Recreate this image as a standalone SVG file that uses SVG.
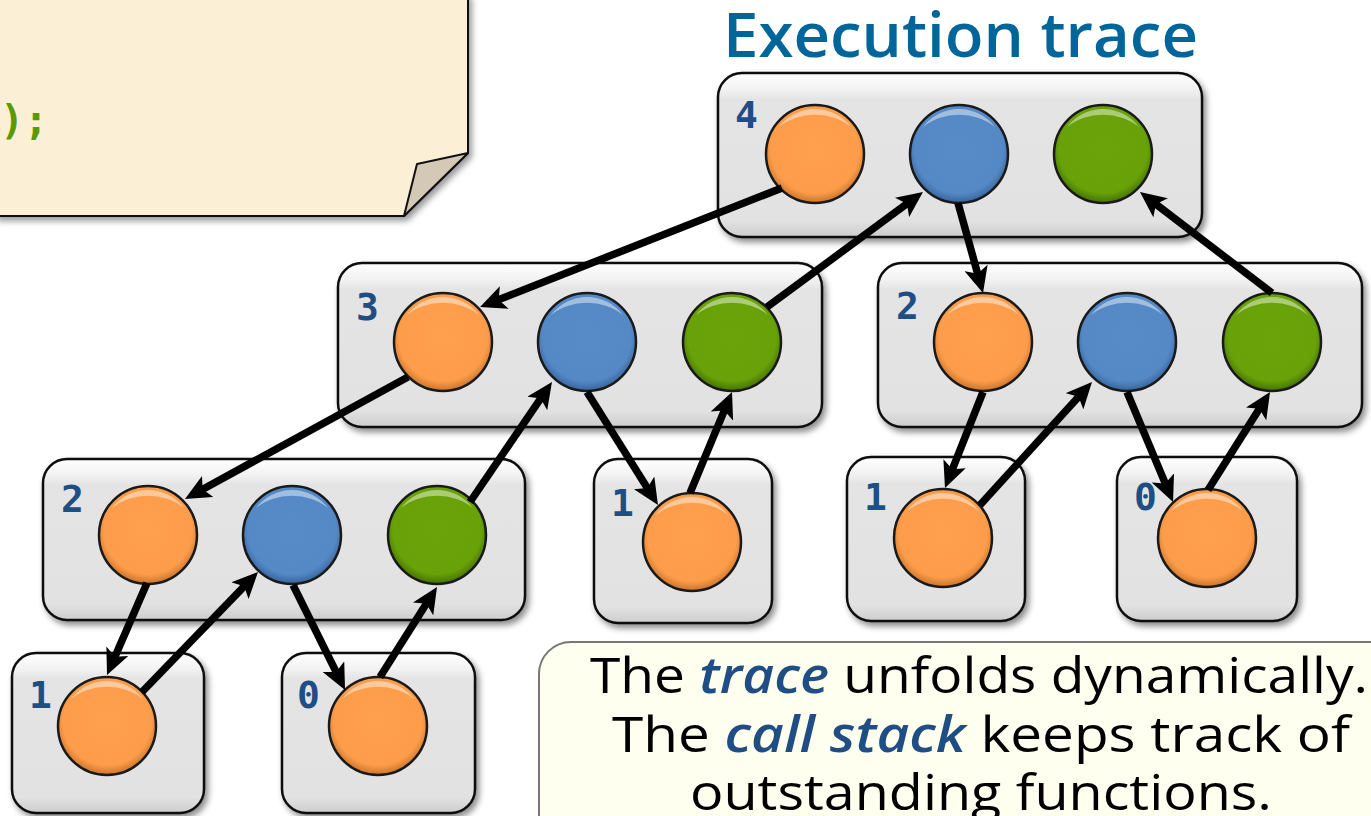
<svg xmlns="http://www.w3.org/2000/svg" width="1371" height="816" viewBox="0 0 1371 816">
<style>
.box{fill:url(#boxg);stroke:#111;stroke-width:2.5;filter:url(#sh)}
.c{stroke:#1a1a1a;stroke-width:2.5}
.o{fill:url(#og)}
.b{fill:url(#bg)}
.g{fill:url(#gg)}
.lbl{font-family:"DejaVu Sans Mono","Liberation Mono",monospace;font-weight:bold;font-size:38px;fill:#1f4e84}
.arr{stroke:#000;stroke-width:7.5;fill:none;marker-end:url(#ah)}
.cap{font-family:"Open Sans","Noto Sans",sans-serif;font-size:50px;fill:#000}
.em{font-style:italic;font-weight:600;fill:#1f4e84}
</style>
<defs>
<filter id="sh" x="-10%" y="-10%" width="125%" height="130%">
<feDropShadow dx="3" dy="4" stdDeviation="3" flood-color="#000" flood-opacity="0.45"/>
</filter>
<filter id="psh" x="-5%" y="-5%" width="115%" height="120%">
<feDropShadow dx="3" dy="4" stdDeviation="3" flood-color="#000" flood-opacity="0.4"/>
</filter>
<linearGradient id="boxg" x1="0" y1="0" x2="0" y2="1">
<stop offset="0" stop-color="#ffffff"/>
<stop offset="0.1" stop-color="#f2f2f2"/>
<stop offset="0.16" stop-color="#e4e4e4"/>
<stop offset="0.9" stop-color="#e2e2e2"/>
<stop offset="1" stop-color="#cdcdcd"/>
</linearGradient>
<radialGradient id="og" cx="0.5" cy="0.45" r="0.55">
<stop offset="0" stop-color="#ffa04e"/>
<stop offset="0.82" stop-color="#fd9d4b"/>
<stop offset="1" stop-color="#c9732a"/>
</radialGradient>
<radialGradient id="bg" cx="0.5" cy="0.45" r="0.55">
<stop offset="0" stop-color="#578bc8"/>
<stop offset="0.82" stop-color="#5589c6"/>
<stop offset="1" stop-color="#35649c"/>
</radialGradient>
<radialGradient id="gg" cx="0.5" cy="0.45" r="0.55">
<stop offset="0" stop-color="#6aa40a"/>
<stop offset="0.82" stop-color="#68a108"/>
<stop offset="1" stop-color="#447000"/>
</radialGradient>
<path id="hl" d="M-36,-27 A45,45 0 0 1 36,-27 A50,40 0 0 0 -36,-27 Z" fill="#fff" opacity="0.45"/>
<marker id="ah" markerUnits="userSpaceOnUse" markerWidth="26" markerHeight="24" viewBox="0 0 26 24" refX="14" refY="12" orient="auto">
<path d="M0,0 L26,12 L0,24 L6,12 Z" fill="#000"/>
</marker>
</defs>

<rect width="1371" height="816" fill="#fff"/>

<g id="note">
<path d="M-5,-5 L468,-5 L468,153 L404,216 L-5,216 Z" fill="#fbefd6" stroke="#111" stroke-width="2" filter="url(#psh)"/>
<path d="M404,216 L417,164 L468,153 Z" fill="#d3c9b6" stroke="#111" stroke-width="2" stroke-linejoin="round"/>
<text x="0" y="134" font-family="DejaVu Sans Mono, Liberation Mono, monospace" font-weight="bold" font-size="40" fill="#5a9a00">);</text>
</g>

<text id="title" x="723" y="57" font-family="Open Sans, Noto Sans, sans-serif" font-weight="600" font-size="62" fill="#006699" textLength="475" lengthAdjust="spacingAndGlyphs">Execution trace</text>

<g id="n4">
<rect class="box" x="718" y="73" width="484" height="164" rx="24"/>
<text class="lbl" x="735" y="128">4</text>
<circle class="c o" cx="815" cy="154" r="49"/><use href="#hl" x="815" y="154"/>
<circle class="c b" cx="959" cy="154" r="49"/><use href="#hl" x="959" y="154"/>
<circle class="c g" cx="1103" cy="154" r="49"/><use href="#hl" x="1103" y="154"/>
</g>

<g id="n3">
<rect class="box" x="338" y="263" width="484" height="164" rx="24"/>
<text class="lbl" x="356" y="320">3</text>
<circle class="c o" cx="443" cy="342" r="49"/><use href="#hl" x="443" y="342"/>
<circle class="c b" cx="587" cy="342" r="49"/><use href="#hl" x="587" y="342"/>
<circle class="c g" cx="732" cy="342" r="49"/><use href="#hl" x="732" y="342"/>
</g>

<g id="n2r">
<rect class="box" x="878" y="263" width="484" height="164" rx="24"/>
<text class="lbl" x="896" y="319">2</text>
<circle class="c o" cx="983" cy="342" r="49"/><use href="#hl" x="983" y="342"/>
<circle class="c b" cx="1127" cy="342" r="49"/><use href="#hl" x="1127" y="342"/>
<circle class="c g" cx="1272" cy="342" r="49"/><use href="#hl" x="1272" y="342"/>
</g>

<g id="n2l">
<rect class="box" x="43" y="459" width="482" height="161" rx="24"/>
<text class="lbl" x="61" y="512">2</text>
<circle class="c o" cx="148" cy="535" r="49"/><use href="#hl" x="148" y="535"/>
<circle class="c b" cx="292" cy="535" r="49"/><use href="#hl" x="292" y="535"/>
<circle class="c g" cx="437" cy="535" r="49"/><use href="#hl" x="437" y="535"/>
</g>

<g id="n1m">
<rect class="box" x="594" y="459" width="178" height="164" rx="24"/>
<text class="lbl" x="611" y="516">1</text>
<circle class="c o" cx="692" cy="542" r="49"/><use href="#hl" x="692" y="542"/>
</g>

<g id="n1r">
<rect class="box" x="847" y="457" width="178" height="164" rx="24"/>
<text class="lbl" x="864" y="510">1</text>
<circle class="c o" cx="943" cy="538" r="49"/><use href="#hl" x="943" y="538"/>
</g>

<g id="n0r">
<rect class="box" x="1117" y="457" width="180" height="164" rx="24"/>
<text class="lbl" x="1134" y="510">0</text>
<circle class="c o" cx="1207" cy="538" r="49"/><use href="#hl" x="1207" y="538"/>
</g>

<g id="n1b">
<rect class="box" x="12" y="653" width="192" height="160" rx="24"/>
<text class="lbl" x="29" y="708">1</text>
<circle class="c o" cx="107" cy="726" r="49"/><use href="#hl" x="107" y="726"/>
</g>

<g id="n0b">
<rect class="box" x="282" y="653" width="193" height="160" rx="24"/>
<text class="lbl" x="297" y="708">0</text>
<circle class="c o" cx="378" cy="726" r="49"/><use href="#hl" x="378" y="726"/>
</g>

<g id="connectors">
<line class="arr" x1="782" y1="188" x2="491.2" y2="302.6"/>
<line class="arr" x1="767" y1="307" x2="913.3" y2="199.1"/>
<line class="arr" x1="958" y1="203" x2="979.8" y2="281.4"/>
<line class="arr" x1="1272" y1="293" x2="1149.5" y2="199.3"/>
<line class="arr" x1="408" y1="377" x2="195.5" y2="493.2"/>
<line class="arr" x1="470" y1="502" x2="545.2" y2="391.9"/>
<line class="arr" x1="587" y1="392" x2="651.6" y2="494.8"/>
<line class="arr" x1="690" y1="493" x2="727.4" y2="403.1"/>
<line class="arr" x1="983" y1="392" x2="949.4" y2="476.8"/>
<line class="arr" x1="980" y1="505" x2="1083.9" y2="390.9"/>
<line class="arr" x1="1127" y1="392" x2="1168.4" y2="490.9"/>
<line class="arr" x1="1208" y1="490" x2="1263.6" y2="402.1"/>
<line class="arr" x1="147" y1="583" x2="111.8" y2="664"/>
<line class="arr" x1="142" y1="692" x2="249.7" y2="580.6"/>
<line class="arr" x1="293" y1="585" x2="339.7" y2="679.2"/>
<line class="arr" x1="380" y1="677" x2="430.6" y2="597.1"/>
</g>

<g id="callout">
<rect x="539" y="642" width="900" height="250" rx="32" fill="#fffff0" stroke="#777" stroke-width="2"/>
<text class="cap" x="979" y="693" text-anchor="middle" textLength="778" lengthAdjust="spacingAndGlyphs">The <tspan class="em">trace</tspan> unfolds dynamically.</text>
<text class="cap" x="981" y="752" text-anchor="middle" textLength="738" lengthAdjust="spacingAndGlyphs">The <tspan class="em">call stack</tspan> keeps track of</text>
<text class="cap" x="981" y="810" text-anchor="middle" textLength="582" lengthAdjust="spacingAndGlyphs">outstanding functions.</text>
</g>
</svg>
